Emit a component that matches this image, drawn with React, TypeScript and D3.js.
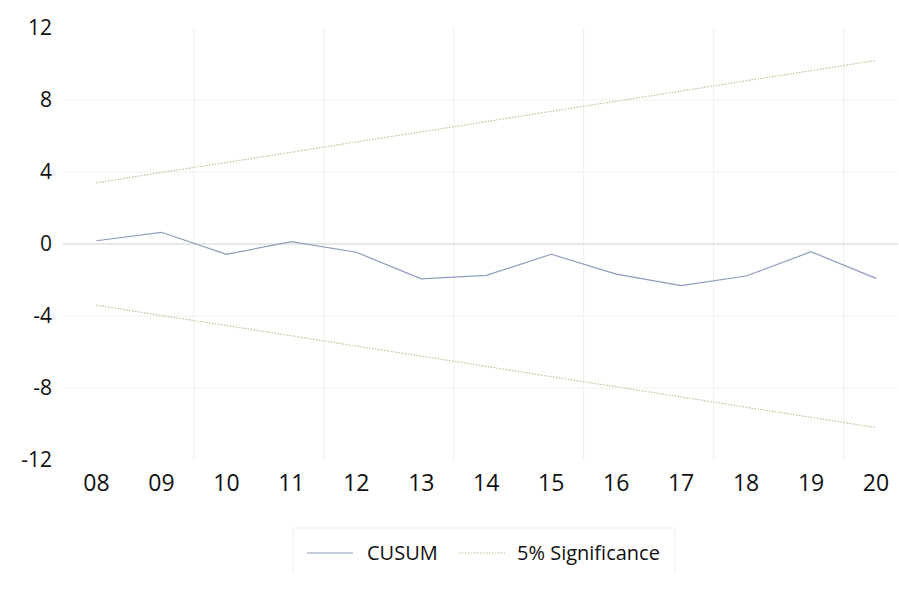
import React from "react";
import * as d3 from "d3";

const categories = ["08", "09", "10", "11", "12", "13", "14", "15", "16", "17", "18", "19", "20"];
const cusum = [0.18, 0.65, -0.57, 0.13, -0.46, -1.94, -1.74, -0.57, -1.67, -2.31, -1.78, -0.43, -1.91];
const upper = [3.4, 3.97, 4.53, 5.1, 5.67, 6.23, 6.8, 7.37, 7.93, 8.5, 9.07, 9.63, 10.2];
const lower = [-3.4, -3.97, -4.53, -5.1, -5.67, -6.23, -6.8, -7.37, -7.93, -8.5, -9.07, -9.63, -10.2];
const yTicks = [12, 8, 4, 0, -4, -8, -12];
const vGridAfter = ["09", "11", "13", "15", "17", "19"];

const W = 899;
const H = 595;
const FONT = "'Open Sans', sans-serif";

export default function App() {
  const plotLeft = 63;
  const plotRight = 898;
  const x = d3.scalePoint<string>().domain(categories).range([96.5, 876]);
  const step = x.step();
  const y = d3.scaleLinear().domain([-12, 12]).range([460, 28]);

  const line = d3
    .line<number>()
    .x((_, i) => x(categories[i]) as number)
    .y((d) => y(d));

  return (
    <div style={{ position: "absolute", left: 0, top: 0 }}>
      <svg width={W} height={H} style={{ display: "block", background: "#fff" }}>
        {/* horizontal grid */}
        {yTicks
          .filter((t) => t !== 12 && t !== -12 && t !== 0)
          .map((t) => (
            <line key={"h" + t} x1={plotLeft} x2={plotRight} y1={y(t)} y2={y(t)} stroke="#f0f0f0" strokeWidth={1} />
          ))}
        {/* vertical grid */}
        {vGridAfter.map((c) => {
          const xv = (x(c) as number) + step / 2;
          return <line key={"v" + c} x1={xv} x2={xv} y1={y(12)} y2={y(-12)} stroke="#eeeeee" strokeWidth={1} />;
        })}
        {/* zero line */}
        <line x1={plotLeft} x2={plotRight} y1={y(0)} y2={y(0)} stroke="#d0d0d0" strokeWidth={1.2} />
        {/* significance */}
        <path d={line(upper) || ""} fill="none" stroke="#c8bc96" strokeWidth={1.2} strokeDasharray="1.5,1.5" />
        <path d={line(lower) || ""} fill="none" stroke="#c8bc96" strokeWidth={1.2} strokeDasharray="1.5,1.5" />
        {/* CUSUM */}
        <path d={line(cusum) || ""} fill="none" stroke="#8e9bbf" strokeWidth={1.2} />
        {/* y labels */}
        {yTicks.map((t) => (
          <text key={"yl" + t} x={52} y={y(t)} dy="0.35em" textAnchor="end" fontFamily={FONT} fontSize={21} fill="#111">
            {t}
          </text>
        ))}
        {/* x labels */}
        {categories.map((c) => (
          <text key={"xl" + c} x={x(c) as number} y={491} textAnchor="middle" fontFamily={FONT} fontSize={23} fill="#111">
            {c}
          </text>
        ))}
        {/* legend */}
        <g>
          <path d="M293,572 V528 H675 V572" fill="none" stroke="#eeeeee" strokeWidth={1} />
          <line x1={307} x2={353} y1={553} y2={553} stroke="#8e9bbf" strokeWidth={1.2} />
          <text x={367} y={560} fontFamily={FONT} fontSize={20} fill="#111">CUSUM</text>
          <line x1={459} x2={505} y1={553} y2={553} stroke="#c8bc96" strokeWidth={1.2} strokeDasharray="1.5,1.5" />
          <text x={517} y={560} fontFamily={FONT} fontSize={20} fill="#111">5% Significance</text>
        </g>
      </svg>
    </div>
  );
}
